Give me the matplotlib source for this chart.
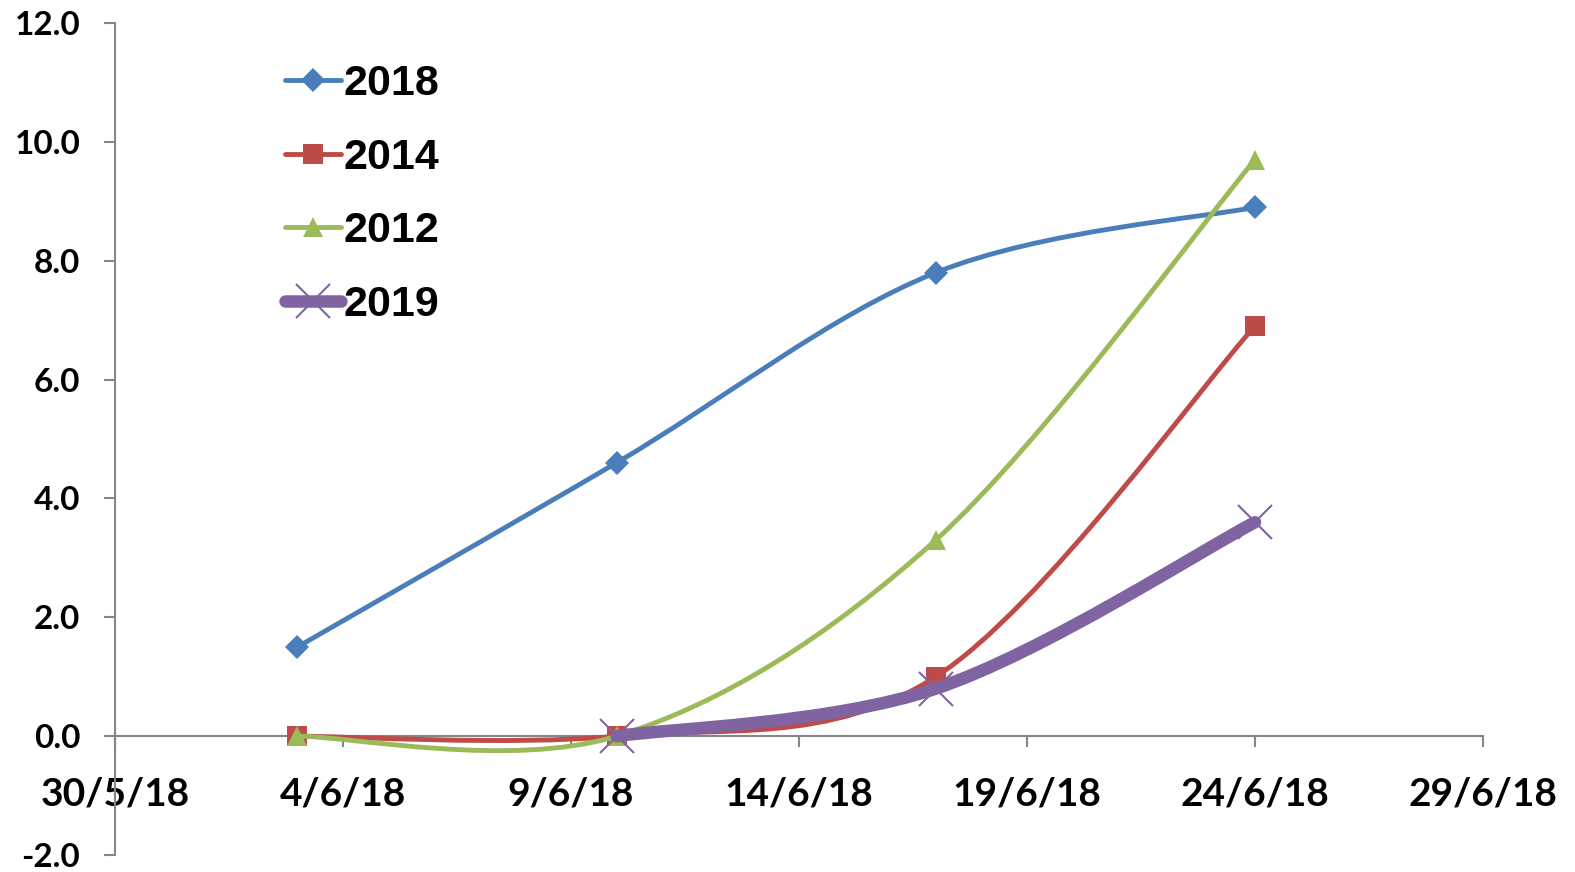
import matplotlib
matplotlib.use("Agg")
import matplotlib.pyplot as plt
import matplotlib.dates as mdates
from matplotlib.path import Path
from matplotlib.patches import PathPatch
from matplotlib.lines import Line2D
import numpy as np
import datetime as dt

# data
dates = ["2018-06-03", "2018-06-10", "2018-06-17", "2018-06-24"]
dates_2019 = ["2018-06-10", "2018-06-17", "2018-06-24"]
v2018 = [1.5, 4.6, 7.8, 8.9]
v2014 = [0.0, 0.0, 1.0, 6.9]
v2012 = [0.0, 0.0, 3.3, 9.7]
v2019 = [0.0, 0.8, 3.6]

tick_dates = ["2018-05-30", "2018-06-04", "2018-06-09", "2018-06-14",
              "2018-06-19", "2018-06-24", "2018-06-29"]
tick_labels = ["30/5/18", "4/6/18", "9/6/18", "14/6/18", "19/6/18", "24/6/18", "29/6/18"]
y_ticks = [-2, 0, 2, 4, 6, 8, 10, 12]

AXIS_GRAY = "#868686"


def to_num(ds):
    return mdates.date2num([dt.datetime.strptime(d, "%Y-%m-%d") for d in ds])


def smooth_path(x, y):
    # Excel-style smoothed line: cubic Bezier segments with Catmull-Rom control points
    pts = np.column_stack([x, y])
    n = len(pts)
    verts = [pts[0]]
    codes = [Path.MOVETO]
    for i in range(n - 1):
        p_prev = pts[i - 1] if i > 0 else pts[i]
        p_next2 = pts[i + 2] if i + 2 < n else pts[i + 1]
        c1 = pts[i] + (pts[i + 1] - p_prev) / 6.0
        c2 = pts[i + 1] - (p_next2 - pts[i]) / 6.0
        verts += [c1, c2, pts[i + 1]]
        codes += [Path.CURVE4] * 3
    return Path(verts, codes)


fig = plt.figure(figsize=(15.75, 8.72), dpi=100)
ax = fig.add_axes([115 / 1575, 17 / 872, 1368 / 1575, 832 / 872])

series = [
    ("2018", dates, v2018, "#4A7EBB", "D", 12, 3.5),
    ("2014", dates, v2014, "#BE4B48", "s", 14, 3.5),
    ("2012", dates, v2012, "#9BBB59", "^", 14, 3.5),
    ("2019", dates_2019, v2019, "#8064A2", "x", 25, 9.0),
]

handles = []
for i, (name, ds, vals, color, mk, ms, lw) in enumerate(series):
    x = to_num(ds)
    patch = PathPatch(smooth_path(x, vals), facecolor="none", edgecolor=color,
                      lw=lw, capstyle="round", joinstyle="round", zorder=3 + i)
    ax.add_patch(patch)
    mew = 1.5 if mk == "x" else 0
    ax.plot(x, vals, linestyle="none", marker=mk, markersize=ms, color=color,
            markeredgewidth=mew, zorder=3 + i)
    handles.append(Line2D([], [], color=color, lw=lw, marker=mk, markersize=ms,
                          markeredgewidth=mew, solid_capstyle="round", label=name))

ax.set_xlim(to_num(["2018-05-30"])[0], to_num(["2018-06-29"])[0])
ax.set_ylim(-2, 12)

ax.set_xticks(to_num(tick_dates))
ax.set_xticklabels(tick_labels)
ax.set_yticks(y_ticks)
ax.set_yticklabels([f"{v:.1f}" for v in y_ticks])

for side in ["top", "right"]:
    ax.spines[side].set_visible(False)
ax.spines["bottom"].set_position(("data", 0))
for side in ["left", "bottom"]:
    ax.spines[side].set_color(AXIS_GRAY)
    ax.spines[side].set_linewidth(1.5)

ax.tick_params(axis="both", direction="out", color=AXIS_GRAY, width=1.5, length=8)
ax.tick_params(axis="x", pad=21)
ax.tick_params(axis="y", pad=17)
for lab in ax.get_xticklabels():
    lab.set_fontfamily("Lato")
    lab.set_fontweight("bold")
    lab.set_fontsize(28)
for lab in ax.get_yticklabels():
    lab.set_fontfamily("Lato")
    lab.set_fontweight("bold")
    lab.set_fontsize(24)

leg = ax.legend(handles=handles, loc="upper left",
                bbox_to_anchor=(285 / 1575, 1 - 64 / 872), bbox_transform=fig.transFigure,
                frameon=False, borderpad=0, borderaxespad=0, handlelength=1.3,
                handletextpad=0.05, labelspacing=0.78,
                prop={"family": "Liberation Sans", "weight": "bold", "size": 31})

fig.savefig("out.png", dpi=100, facecolor="white")
